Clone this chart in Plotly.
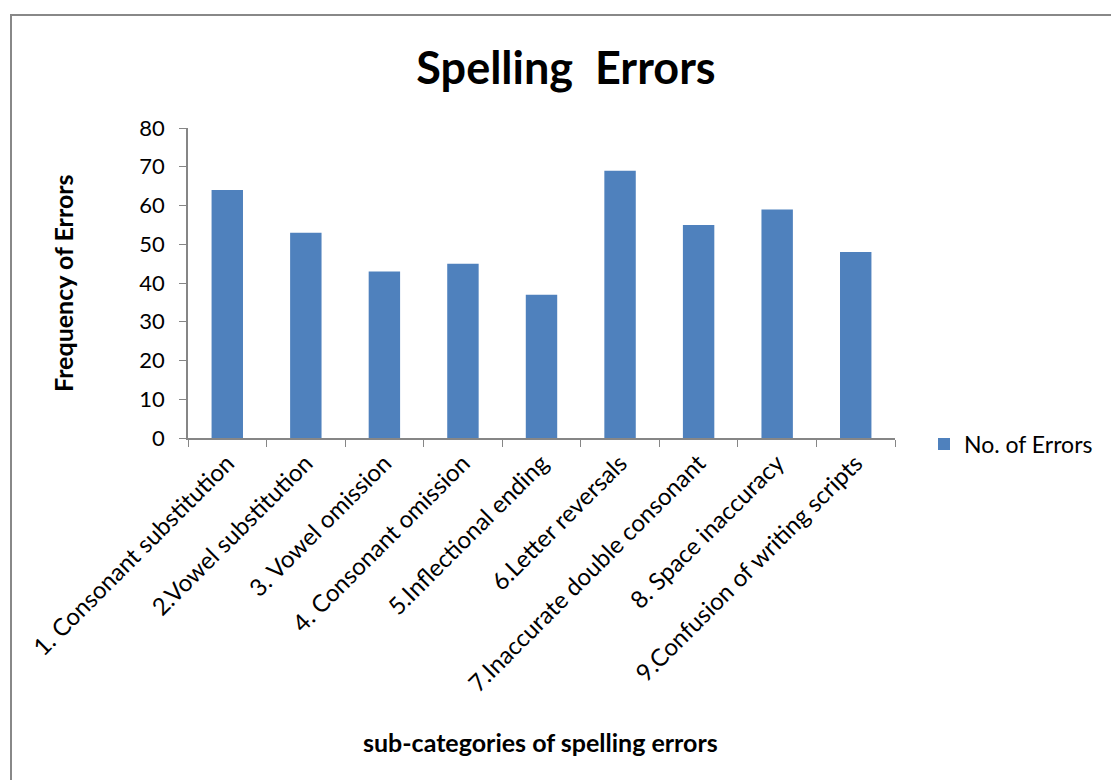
import plotly.graph_objects as go

categories = [
    "1. Consonant substitution",
    "2.Vowel substitution",
    "3. Vowel omission",
    "4. Consonant omission",
    "5.Inflectional ending",
    "6.Letter reversals",
    "7.Inaccurate double consonant",
    "8. Space inaccuracy",
    "9.Confusion of writing scripts",
]
errors = [64, 53, 43, 45, 37, 69, 55, 59, 48]
y_ticks = [0, 10, 20, 30, 40, 50, 60, 70, 80]

FONT = "Lato"
W, H = 1111, 780
L, R, T, B = 188, 216, 128, 342
pw, ph = W - L - R, H - T - B


def px_to_paper_x(x):
    return (x - L) / pw


def px_to_paper_y(y):
    return (H - B - y) / ph


fig = go.Figure()
fig.add_trace(go.Bar(
    x=categories, y=errors, name="No. of Errors",
    marker=dict(color="#4F81BD", line=dict(width=0)),
    width=0.4,
))

fig.update_layout(
    width=W, height=H,
    margin=dict(l=L, r=R, t=T, b=B, autoexpand=False),
    plot_bgcolor="white", paper_bgcolor="white",
    font=dict(family=FONT, color="black"),
    title=dict(text="<b>Spelling  Errors</b>", x=566 / W,
               xanchor="center", y=1 - 68 / H, yanchor="middle",
               font=dict(size=45, family=FONT)),
    showlegend=True,
    legend=dict(x=px_to_paper_x(924), y=px_to_paper_y(444), xanchor="left",
                yanchor="middle", font=dict(size=23, family=FONT),
                bgcolor="rgba(0,0,0,0)", itemwidth=30),
    bargap=0.6,
)

fig.update_xaxes(
    type="category", tickangle=-45, tickfont=dict(size=24, family=FONT),
    showline=True, linecolor="#868686", linewidth=1.5,
    ticks="outside", tickson="boundaries", ticklen=7, tickcolor="#868686",
    showgrid=False, automargin=False,
)
fig.update_yaxes(
    range=[0, 80], tickvals=y_ticks, tickfont=dict(size=22, family=FONT),
    showline=True, linecolor="#868686", linewidth=1.5,
    ticks="outside", ticklen=7, tickcolor="#868686", ticklabelstandoff=10,
    showgrid=False, zeroline=False, automargin=False,
)

# axis titles
fig.add_annotation(text="<b>Frequency of Errors</b>", xref="paper", yref="paper",
                   x=px_to_paper_x(63), y=px_to_paper_y(283), textangle=-90,
                   showarrow=False, font=dict(size=25, family=FONT),
                   xanchor="center", yanchor="middle")
fig.add_annotation(text="<b>sub-categories of spelling errors</b>", xref="paper", yref="paper",
                   x=px_to_paper_x(540), y=px_to_paper_y(742),
                   showarrow=False, font=dict(size=25, family=FONT),
                   xanchor="center", yanchor="middle")

# chart frame
fig.add_shape(type="rect", xref="paper", yref="paper",
              x0=px_to_paper_x(11), y0=px_to_paper_y(900),
              x1=px_to_paper_x(1200), y1=px_to_paper_y(15),
              line=dict(color="#888888", width=2), layer="below")

fig.write_html("out.html")
